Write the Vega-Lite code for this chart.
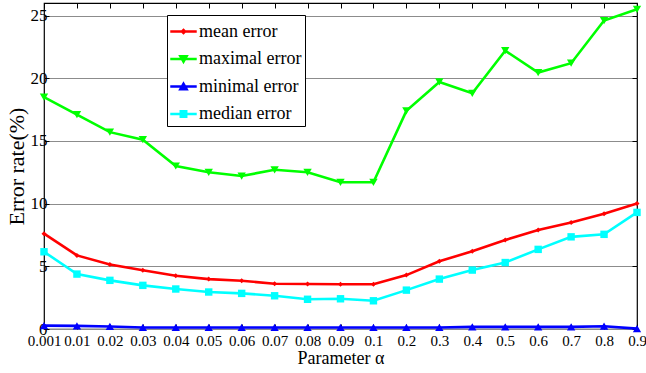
{
  "$schema": "https://vega.github.io/schema/vega-lite/v6.json",
  "width": 593,
  "height": 326,
  "autosize": "none",
  "padding": {"left": 44, "top": 3, "right": 9, "bottom": 44},
  "background": "white",
  "config": {
    "font": "Liberation Serif",
    "view": {"stroke": "black", "strokeWidth": 1.2},
    "axis": {"labelFont": "Liberation Serif", "titleFont": "Liberation Serif", "labelColor": "black", "titleColor": "black", "tickColor": "black", "titleFontWeight": "normal", "domain": false}
  },
  "datasets": {
    "d": [
      {"a": "0.001", "s": "mean error", "v": 7.6}, {"a": "0.01", "s": "mean error", "v": 5.87}, {"a": "0.02", "s": "mean error", "v": 5.15}, {"a": "0.03", "s": "mean error", "v": 4.68}, {"a": "0.04", "s": "mean error", "v": 4.25}, {"a": "0.05", "s": "mean error", "v": 3.98}, {"a": "0.06", "s": "mean error", "v": 3.85}, {"a": "0.07", "s": "mean error", "v": 3.61}, {"a": "0.08", "s": "mean error", "v": 3.59}, {"a": "0.09", "s": "mean error", "v": 3.57}, {"a": "0.1", "s": "mean error", "v": 3.57}, {"a": "0.2", "s": "mean error", "v": 4.3}, {"a": "0.3", "s": "mean error", "v": 5.4}, {"a": "0.4", "s": "mean error", "v": 6.2}, {"a": "0.5", "s": "mean error", "v": 7.1}, {"a": "0.6", "s": "mean error", "v": 7.9}, {"a": "0.7", "s": "mean error", "v": 8.5}, {"a": "0.8", "s": "mean error", "v": 9.2}, {"a": "0.9", "s": "mean error", "v": 10.0},
      {"a": "0.001", "s": "maximal error", "v": 18.5}, {"a": "0.01", "s": "maximal error", "v": 17.1}, {"a": "0.02", "s": "maximal error", "v": 15.7}, {"a": "0.03", "s": "maximal error", "v": 15.1}, {"a": "0.04", "s": "maximal error", "v": 13.0}, {"a": "0.05", "s": "maximal error", "v": 12.5}, {"a": "0.06", "s": "maximal error", "v": 12.2}, {"a": "0.07", "s": "maximal error", "v": 12.7}, {"a": "0.08", "s": "maximal error", "v": 12.5}, {"a": "0.09", "s": "maximal error", "v": 11.7}, {"a": "0.1", "s": "maximal error", "v": 11.7}, {"a": "0.2", "s": "maximal error", "v": 17.4}, {"a": "0.3", "s": "maximal error", "v": 19.7}, {"a": "0.4", "s": "maximal error", "v": 18.8}, {"a": "0.5", "s": "maximal error", "v": 22.2}, {"a": "0.6", "s": "maximal error", "v": 20.45}, {"a": "0.7", "s": "maximal error", "v": 21.2}, {"a": "0.8", "s": "maximal error", "v": 24.6}, {"a": "0.9", "s": "maximal error", "v": 25.5},
      {"a": "0.001", "s": "minimal error", "v": 0.27}, {"a": "0.01", "s": "minimal error", "v": 0.25}, {"a": "0.02", "s": "minimal error", "v": 0.2}, {"a": "0.03", "s": "minimal error", "v": 0.12}, {"a": "0.04", "s": "minimal error", "v": 0.12}, {"a": "0.05", "s": "minimal error", "v": 0.12}, {"a": "0.06", "s": "minimal error", "v": 0.12}, {"a": "0.07", "s": "minimal error", "v": 0.12}, {"a": "0.08", "s": "minimal error", "v": 0.12}, {"a": "0.09", "s": "minimal error", "v": 0.12}, {"a": "0.1", "s": "minimal error", "v": 0.12}, {"a": "0.2", "s": "minimal error", "v": 0.12}, {"a": "0.3", "s": "minimal error", "v": 0.12}, {"a": "0.4", "s": "minimal error", "v": 0.17}, {"a": "0.5", "s": "minimal error", "v": 0.17}, {"a": "0.6", "s": "minimal error", "v": 0.17}, {"a": "0.7", "s": "minimal error", "v": 0.17}, {"a": "0.8", "s": "minimal error", "v": 0.22}, {"a": "0.9", "s": "minimal error", "v": 0.03},
      {"a": "0.001", "s": "median error", "v": 6.16}, {"a": "0.01", "s": "median error", "v": 4.38}, {"a": "0.02", "s": "median error", "v": 3.88}, {"a": "0.03", "s": "median error", "v": 3.48}, {"a": "0.04", "s": "median error", "v": 3.19}, {"a": "0.05", "s": "median error", "v": 2.95}, {"a": "0.06", "s": "median error", "v": 2.84}, {"a": "0.07", "s": "median error", "v": 2.65}, {"a": "0.08", "s": "median error", "v": 2.37}, {"a": "0.09", "s": "median error", "v": 2.41}, {"a": "0.1", "s": "median error", "v": 2.25}, {"a": "0.2", "s": "median error", "v": 3.1}, {"a": "0.3", "s": "median error", "v": 3.98}, {"a": "0.4", "s": "median error", "v": 4.7}, {"a": "0.5", "s": "median error", "v": 5.3}, {"a": "0.6", "s": "median error", "v": 6.35}, {"a": "0.7", "s": "median error", "v": 7.35}, {"a": "0.8", "s": "median error", "v": 7.55}, {"a": "0.9", "s": "median error", "v": 9.3}
    ]
  },
  "data": {"name": "d"},
  "layer": [
    {
      "mark": {"type": "line", "strokeWidth": 2.6},
      "encoding": {
        "x": {"field": "a", "type": "ordinal", "sort": null, "scale": {"type": "point", "padding": 0},
              "axis": {"orient": "bottom", "title": "Parameter α", "titleFontSize": 18, "titlePadding": 1, "labelFontSize": 15, "labelAngle": 0, "tickSize": -5, "labelPadding": 9, "grid": false}},
        "y": {"field": "v", "type": "quantitative", "scale": {"domain": [0, 26], "nice": false},
              "axis": {"orient": "left", "title": "Error rate(%)", "titleFontSize": 22, "titlePadding": 2, "labelFontSize": 17, "values": [0, 5, 10, 15, 20, 25], "tickSize": -5, "labelPadding": 2, "grid": true, "gridColor": "#8c8c8c", "gridWidth": 1}},
        "color": {"field": "s", "type": "nominal",
                  "scale": {"domain": ["mean error", "maximal error", "minimal error", "median error"], "range": ["#ff0000", "#00ff00", "#0000ff", "#00ffff"]}},
        "detail": {"field": "s"}
      }
    },
    {
      "transform": [{"filter": "datum.s == 'mean error'"}],
      "mark": {"type": "point", "filled": true, "opacity": 1, "shape": "diamond", "size": 25, "color": "#ff0000"},
      "encoding": {
        "x": {"field": "a", "type": "ordinal", "sort": null, "axis": null},
        "y": {"field": "v", "type": "quantitative", "axis": null}
      }
    },
    {
      "transform": [{"filter": "datum.s == 'maximal error'"}],
      "mark": {"type": "point", "filled": true, "opacity": 1, "shape": "triangle-down", "size": 70, "color": "#00ff00"},
      "encoding": {
        "x": {"field": "a", "type": "ordinal", "sort": null, "axis": null},
        "y": {"field": "v", "type": "quantitative", "axis": null}
      }
    },
    {
      "transform": [{"filter": "datum.s == 'minimal error'"}],
      "mark": {"type": "point", "filled": true, "opacity": 1, "shape": "triangle-up", "size": 70, "color": "#0000ff"},
      "encoding": {
        "x": {"field": "a", "type": "ordinal", "sort": null, "axis": null},
        "y": {"field": "v", "type": "quantitative", "axis": null}
      }
    },
    {
      "transform": [{"filter": "datum.s == 'median error'"}],
      "mark": {"type": "point", "filled": true, "opacity": 1, "shape": "square", "size": 55, "color": "#00ffff"},
      "encoding": {
        "x": {"field": "a", "type": "ordinal", "sort": null, "axis": null},
        "y": {"field": "v", "type": "quantitative", "axis": null}
      }
    },
    {
      "mark": {"type": "point", "filled": true, "opacity": 0},
      "encoding": {
        "x": {"field": "a", "type": "ordinal", "sort": null,
              "axis": {"orient": "top", "labels": false, "title": null, "tickSize": -5, "grid": false}},
        "y": {"field": "v", "type": "quantitative",
              "axis": {"orient": "right", "labels": false, "title": null, "tickSize": -5, "grid": false, "values": [0, 5, 10, 15, 20, 25]}},
        "color": {"field": "s", "type": "nominal",
                  "legend": {"orient": "none", "legendX": 123, "legendY": 12, "title": null, "strokeColor": "black", "fillColor": "white", "padding": 3, "rowPadding": 4.5, "symbolSize": 700, "symbolOpacity": 1, "symbolStrokeWidth": 0, "symbolType": "M-1,-0.1H1V0.1H-1Z", "labelFont": "Liberation Serif", "labelFontSize": 18, "labelColor": "black", "labelOffset": 2, "labelLimit": 300,
                             "labelExpr": "datum.label + '\u00a0\u00a0\u00a0\u00a0\u00a0\u00a0\u00a0\u00a0\u00a0\u00a0'"}},
        "shape": {"field": "s", "type": "nominal",
                  "scale": {"domain": ["mean error", "maximal error", "minimal error", "median error"],
                            "range": ["M-1,-0.1H1V0.1H-1Z M0,-0.25L0.25,0L0,0.25L-0.25,0Z", "M-1,-0.1H1V0.1H-1Z M-0.4,-0.3H0.4L0,0.4Z", "M-1,-0.1H1V0.1H-1Z M0.4,0.3H-0.4L0,-0.4Z", "M-1,-0.1H1V0.1H-1Z M-0.3,-0.3H0.3V0.3H-0.3Z"]},
                  "legend": {"orient": "none", "legendX": 123, "legendY": 12, "title": null, "strokeColor": "black", "fillColor": "white", "padding": 3, "rowPadding": 4.5, "symbolSize": 700, "symbolOpacity": 1, "symbolStrokeWidth": 0, "labelFont": "Liberation Serif", "labelFontSize": 18, "labelColor": "black", "labelOffset": 2, "labelLimit": 300,
                             "labelExpr": "datum.label + '\u00a0\u00a0\u00a0\u00a0\u00a0\u00a0\u00a0\u00a0\u00a0\u00a0'"}}
      }
    }
  ]
}
